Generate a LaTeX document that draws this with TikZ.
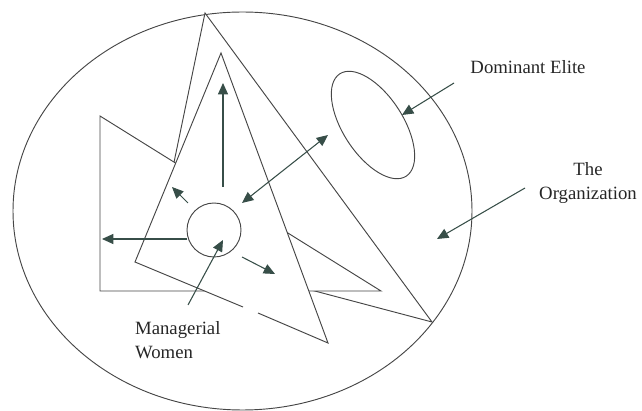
\documentclass[tikz,border=0pt]{standalone}
\usepackage{fontspec}
\setmainfont{Liberation Serif}
\newfontfamily\figfont{Liberation Serif}
\usetikzlibrary{arrows.meta}

\definecolor{lineg}{RGB}{70,70,70}
\definecolor{arrowg}{RGB}{55,78,72}

\begin{document}
\begin{tikzpicture}[x=0.3mm,y=0.3mm,
	outline/.style={draw=lineg,line width=0.8pt},
	pointer/.style={draw=arrowg,line width=0.9pt,-{Triangle[length=3.4mm,width=3mm]}},
	txt/.style={text=black!85,font=\figfont\fontsize{16}{21}\selectfont}]

	\useasboundingbox (0,0) rectangle (642,411);

	% the organization
	\draw[outline] (242.5,200) ellipse (229.5 and 199);

	% triangles, back to front
	\draw[outline,fill=white] (205,398) -- (432,89) -- (156,162) -- cycle;
	\draw[outline,fill=white] (100,295) -- (100,120) -- (381,120) -- cycle;
	\fill[white] (221,358) -- (135,149) -- (328,68) -- cycle;
	\draw[outline] (258,98) -- (328,68) -- (221,358) -- (135,149) -- (243,104);

	% dominant elite and managerial women
	\draw[outline,rotate around={-57:(373,286)}] (373,286) ellipse (61 and 30);
	\draw[outline] (214,181) circle (27);

	% labels
	\node[txt] (elite) at (528,344) {Dominant Elite};
	\node[txt,align=center] (org) at (588,228) {The\\Organization};
	\node[txt,align=left,anchor=west] (women) at (131,71) {Managerial\\Women};

	% arrow ends
	\coordinate (upTail) at (223,224);
	\coordinate (upTip) at (223,328);
	\coordinate (ulTail) at (188,208);
	\coordinate (ulTip) at (172,224);
	\coordinate (leftTail) at (187,172);
	\coordinate (leftTip) at (102,172);
	\coordinate (drTail) at (242,154);
	\coordinate (drTip) at (275,137);
	\coordinate (linkA) at (242,208);
	\coordinate (linkB) at (328,276);
	\coordinate (womenTail) at (188,106);
	\coordinate (womenTip) at (223,171);
	\coordinate (eliteTail) at (454,328);
	\coordinate (eliteTip) at (402,296);
	\coordinate (orgTail) at (525,223);
	\coordinate (orgTip) at (437,172);

	% arrows
	\draw[pointer] (upTail) -- (upTip);
	\draw[pointer] (ulTail) -- (ulTip);
	\draw[pointer] (leftTail) -- (leftTip);
	\draw[pointer] (drTail) -- (drTip);
	\draw[pointer,{Triangle[length=3.4mm,width=3mm]}-{Triangle[length=3.4mm,width=3mm]}] (linkA) -- (linkB);
	\draw[pointer] (womenTail) -- (womenTip);
	\draw[pointer] (eliteTail) -- (eliteTip);
	\draw[pointer] (orgTail) -- (orgTip);

\end{tikzpicture}
\end{document}
